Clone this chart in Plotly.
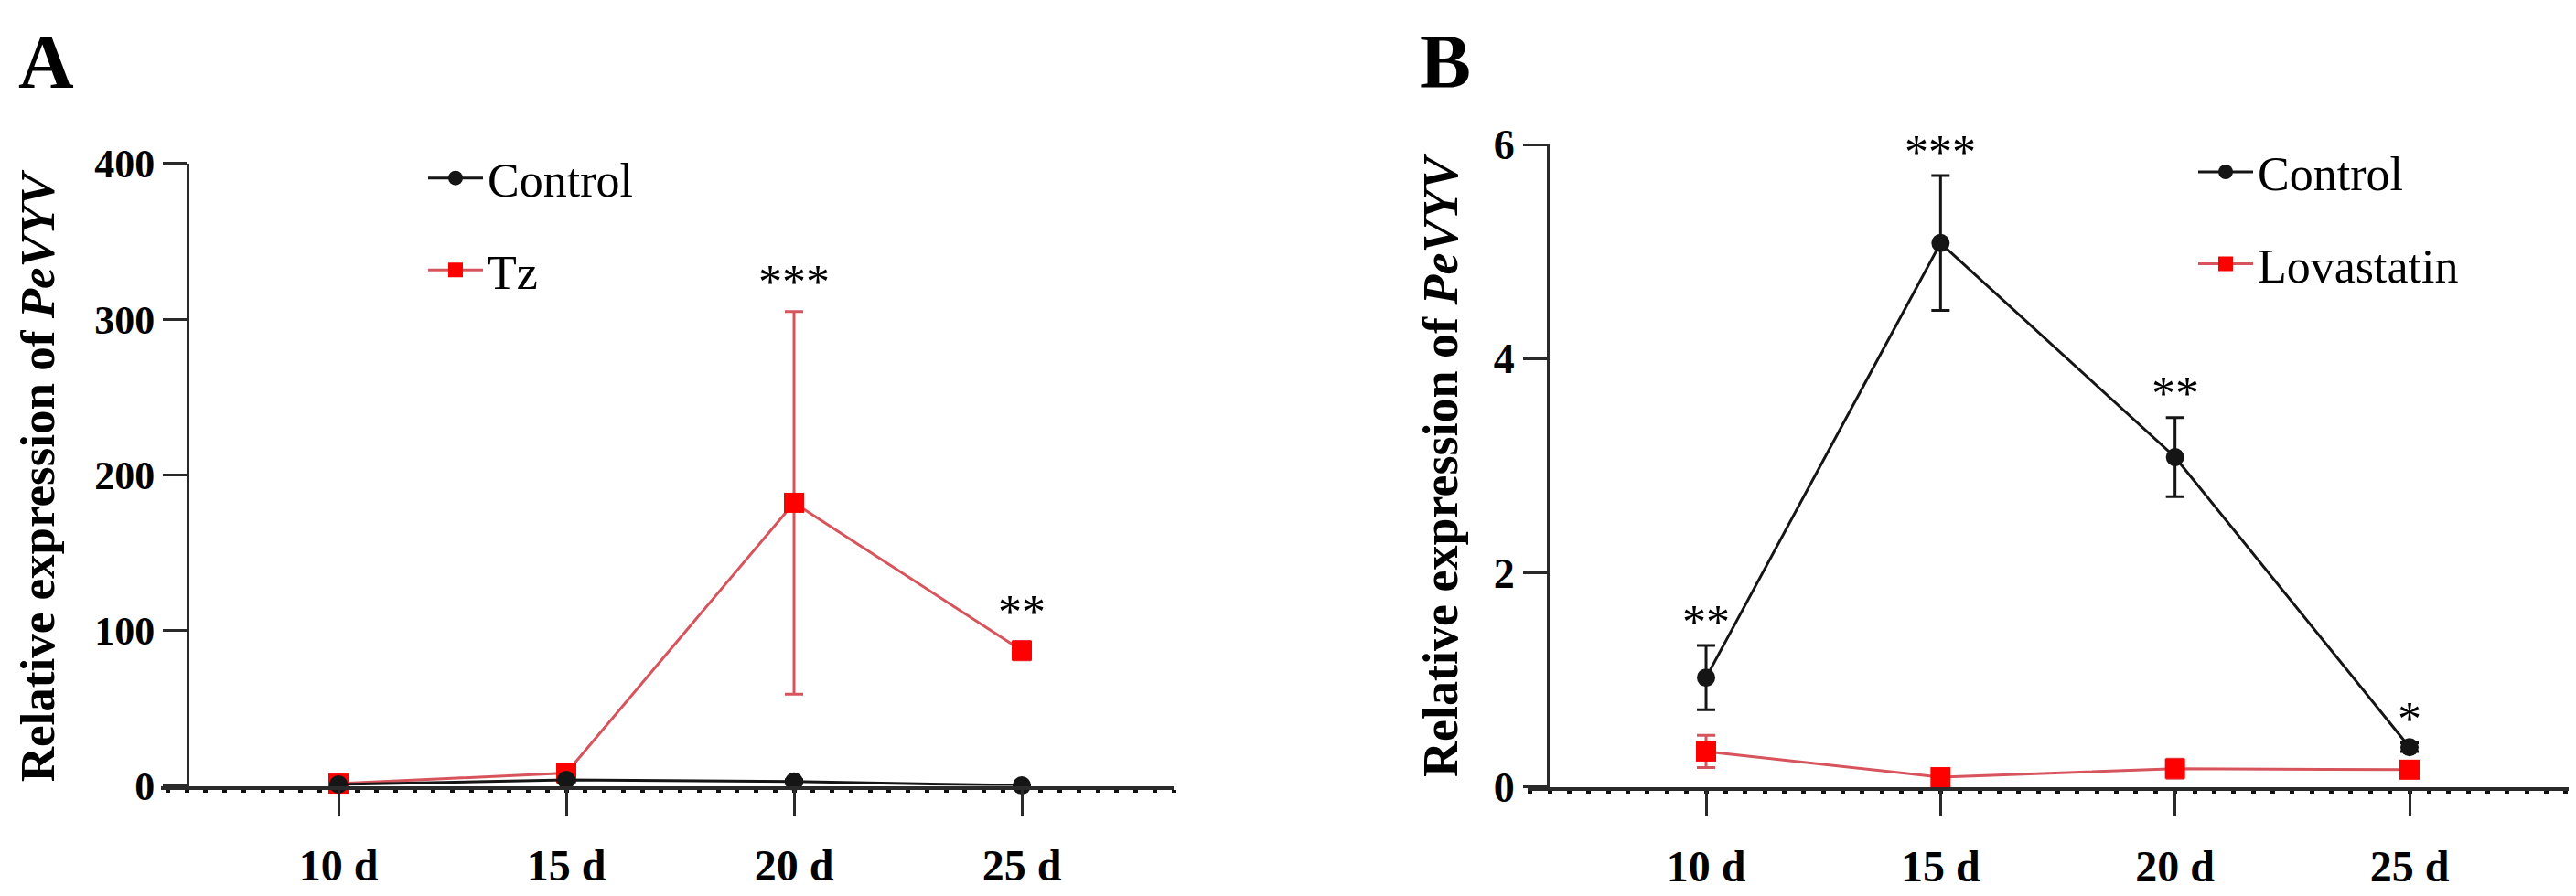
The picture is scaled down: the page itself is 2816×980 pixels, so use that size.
import plotly.graph_objects as go

W, H = 2816, 980

days = [10, 15, 20, 25]
day_labels = ["10 d", "15 d", "20 d", "25 d"]

# panel A: Tz treatment
a_control = [1.0, 3.9, 2.8, 0.3]
a_control_sd = [0.3, 1.2, 1.2, 0.2]
a_tz = [1.5, 8.3, 182.0, 87.0]
a_tz_sd = [5.0, 3.0, 123.0, 6.0]
a_sig = ["", "", "***", "**"]

# panel B: lovastatin treatment
b_control = [1.02, 5.08, 3.08, 0.37]
b_control_sd = [0.30, 0.63, 0.37, 0.04]
b_lova = [0.33, 0.09, 0.17, 0.16]
b_lova_sd = [0.15, 0.05, 0.09, 0.04]
b_sig = ["**", "***", "**", "*"]

SERIF = "Liberation Serif"
BLACK = "#151515"
RED = "#ff0000"
RED_LINE = "#d8545c"


def px_x(p):
    return p / W


def px_y(p):
    return 1 - p / H


def series(x, y, sd, name, color, lcolor, symbol, size, xa, ya, leg, rank):
    return go.Scatter(
        x=x, y=y, name=name, mode="lines+markers",
        xaxis=xa, yaxis=ya, legend=leg, legendrank=rank,
        legendgroup=name + leg,
        cliponaxis=False,
        line=dict(color=lcolor, width=3),
        marker=dict(color=color, symbol=symbol, size=size,
                    line=dict(color=color, width=0)),
        error_y=dict(type="data", array=sd, visible=True,
                     color=lcolor, thickness=3, width=10),
    )


fig = go.Figure()
# red first so black sits on top
fig.add_trace(series(days, a_tz, a_tz_sd, "Tz", RED, RED_LINE, "square", 22,
                     "x", "y", "legend", 2))
fig.add_trace(series(days, a_control, a_control_sd, "Control", BLACK, BLACK,
                     "circle", 20, "x", "y", "legend", 1))
fig.add_trace(series(days, b_lova, b_lova_sd, "Lovastatin", RED, RED_LINE,
                     "square", 22, "x2", "y2", "legend2", 2))
fig.add_trace(series(days, b_control, b_control_sd, "Control", BLACK, BLACK,
                     "circle", 20, "x2", "y2", "legend2", 1))

xcommon = dict(
    tickmode="array", tickvals=days, ticktext=day_labels,
    showline=True, linecolor="#2a2a2a", linewidth=4,
    ticks="outside", ticklen=28, tickwidth=3, tickcolor="#2a2a2a",
    tickfont=dict(family=SERIF, size=48, color="black", weight="bold"),
    ticklabelstandoff=14,
    showgrid=False, zeroline=False,
    minor=dict(dtick=5 / 12, tick0=10, ticks="outside", ticklen=3,
               tickwidth=5, tickcolor="#111", showgrid=False),
)
ycommon = dict(
    showline=True, linecolor="#2a2a2a", linewidth=3,
    ticks="outside", ticklen=26, tickwidth=3, tickcolor="#2a2a2a",
    showgrid=False, zeroline=False, anchor="free",
)

fig.update_layout(
    width=W, height=H,
    margin=dict(l=0, r=0, t=0, b=0),
    paper_bgcolor="white", plot_bgcolor="white",
    xaxis=dict(domain=[px_x(168), px_x(1275)], range=[6.104, 28.333],
               anchor="y", **xcommon),
    yaxis=dict(domain=[px_y(872), px_y(154)], range=[0, 400], dtick=100,
               position=px_x(197),
               tickfont=dict(family=SERIF, size=44, color="black", weight="bold"),
               **ycommon),
    xaxis2=dict(domain=[px_x(1662), px_x(2800)], range=[6.196, 28.394],
                anchor="y2", **xcommon),
    yaxis2=dict(domain=[px_y(873), px_y(132)], range=[0, 6], dtick=2,
                position=px_x(1684),
                tickfont=dict(family=SERIF, size=46, color="black", weight="bold"),
                **ycommon),
    legend=dict(x=px_x(455), y=px_y(128), xanchor="left", yanchor="top",
                font=dict(family=SERIF, size=52, color="black"),
                tracegroupgap=30, itemwidth=60, bgcolor="rgba(0,0,0,0)"),
    legend2=dict(x=px_x(2390), y=px_y(121), xanchor="left", yanchor="top",
                 font=dict(family=SERIF, size=52, color="black"),
                 tracegroupgap=30, itemwidth=60, bgcolor="rgba(0,0,0,0)"),
    showlegend=True,
)

# significance stars above each point
for xa, ya, means, sds, marks, shift in [
        ("x", "y", a_tz, a_tz_sd, a_sig, 32),
        ("x2", "y2", b_control, b_control_sd, b_sig, 26)]:
    for d, m, s, t in zip(days, means, sds, marks):
        if t:
            fig.add_annotation(x=d, y=m + s, xref=xa, yref=ya, text=t,
                               showarrow=False, yshift=shift, yanchor="middle",
                               font=dict(family=SERIF, size=52, color="black"))

title = "Relative expression of <i>PeVYV</i>"
for cx, cy, size in [(33, 515, 53), (1567, 502, 54)]:
    fig.add_annotation(x=px_x(cx), y=px_y(cy), xref="paper", yref="paper",
                       xanchor="center", yanchor="middle",
                       text=title, textangle=-90, showarrow=False,
                       font=dict(family=SERIF, size=size, color="black",
                                 weight="bold"))

for letter, cx, cy in [("A", 42, 36), ("B", 1572, 36)]:
    fig.add_annotation(x=px_x(cx), y=px_y(cy), xref="paper", yref="paper",
                       xanchor="center", yanchor="middle",
                       text=letter, showarrow=False,
                       font=dict(family=SERIF, size=84, color="black", weight="bold"))

fig.write_html("out.html")
